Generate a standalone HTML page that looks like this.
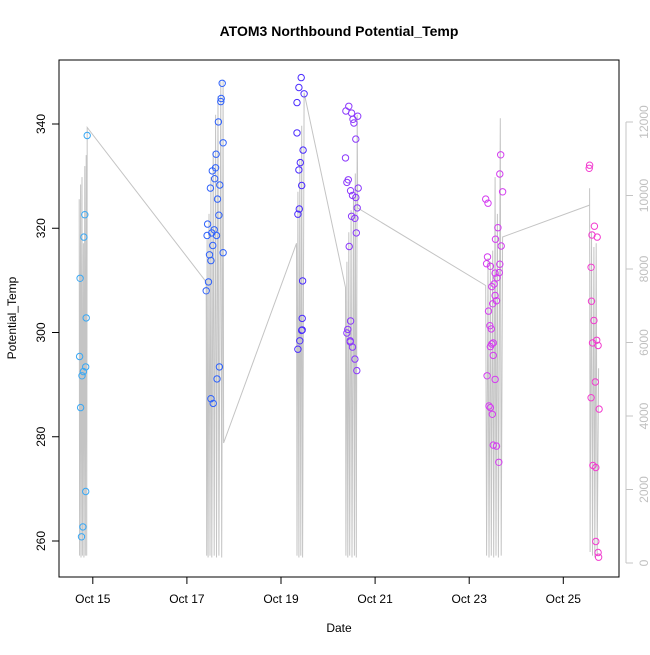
<!DOCTYPE html>
<html><head><meta charset="utf-8"><style>
body{margin:0;background:#fff;}
svg text{font-family:"Liberation Sans",sans-serif;}
</style></head><body>
<svg id="chart" width="650" height="650" xmlns="http://www.w3.org/2000/svg"></svg>
<script>
// ---- data ----
const dateTicks = [15, 17, 19, 21, 23, 25];
const dateTickLabels = ["Oct 15", "Oct 17", "Oct 19", "Oct 21", "Oct 23", "Oct 25"];
const tempTicks = [260, 280, 300, 320, 340];
const depthTicks = [0, 2000, 4000, 6000, 8000, 10000, 12000];
const clusterColors = ["#3aa8f4", "#2f62fb", "#4b2cff", "#8c3afc", "#d43cf0", "#f23ccf"];

const c1Days = [14.88,14.83,14.81,14.73,14.86,14.72,14.85,14.80,14.77,14.74,14.85,14.79,14.76];
const c1Temp = [337.8,322.6,318.3,310.4,302.8,295.4,293.4,292.5,291.7,285.6,269.5,262.7,260.8];
const c2Days = [17.75,17.73,17.72,17.67,17.77,17.62,17.61,17.54,17.59,17.50,17.70,17.65,17.68,17.44,17.43,17.58,17.53,17.63,17.55,17.77,17.48,17.51,17.46,17.41,17.69,17.64,17.51,17.56];
const c2Temp = [347.8,344.9,344.3,340.4,336.4,334.2,331.6,331.0,329.5,327.7,328.3,325.6,322.5,320.8,318.6,319.7,319.1,318.6,316.7,315.3,314.9,313.8,309.7,308.0,293.4,291.1,287.3,286.4];
const c3Days = [19.43,19.38,19.49,19.34,19.34,19.47,19.41,19.38,19.44,19.39,19.36,19.46,19.45,19.45,19.44,19.40,19.36];
const c3Temp = [348.9,347.0,345.8,344.1,338.3,335.0,332.6,331.2,328.2,323.7,322.7,309.9,302.7,300.5,300.4,298.4,296.8];
const c4Days = [20.44,20.38,20.50,20.63,20.53,20.55,20.59,20.37,20.43,20.40,20.64,20.48,20.52,20.59,20.62,20.50,20.57,20.60,20.45,20.48,20.42,20.40,20.47,20.47,20.52,20.57,20.61];
const c4Temp = [343.4,342.5,342.1,341.5,340.9,340.2,337.1,333.5,329.3,328.8,327.7,327.2,326.3,325.9,323.9,322.3,321.9,319.1,316.5,302.2,300.6,299.9,298.4,298.2,297.2,294.9,292.7];
const c5Days = [23.67,23.65,23.71,23.35,23.40,23.61,23.56,23.68,23.39,23.37,23.45,23.65,23.55,23.64,23.59,23.53,23.48,23.55,23.58,23.50,23.41,23.44,23.47,23.51,23.48,23.45,23.51,23.38,23.55,23.42,23.45,23.49,23.51,23.58,23.63];
const c5Temp = [334.1,330.4,327.0,325.6,324.8,320.1,317.9,316.6,314.5,313.2,312.7,313.1,311.4,311.5,310.5,309.3,308.8,307.1,306.1,305.5,304.1,301.3,300.7,298.0,297.8,297.3,295.6,291.7,291.0,285.9,285.6,284.3,278.4,278.2,275.1];
const c6Days = [25.56,25.55,25.66,25.61,25.72,25.59,25.60,25.65,25.71,25.62,25.74,25.68,25.59,25.76,25.63,25.69,25.69,25.74,25.75];
const c6Temp = [332.1,331.5,320.4,318.7,318.3,312.5,306.0,302.3,298.5,298.0,297.5,290.5,287.5,285.3,274.5,274.1,259.9,257.8,256.9];

const depthDays = [14.71,14.72,14.74,14.75,14.77,14.78,14.80,14.81,14.83,14.84,14.86,14.87,14.88,
 17.41,17.42,17.43,17.45,17.47,17.49,17.51,17.53,17.56,17.58,17.61,17.63,17.66,17.68,17.72,17.74,17.77,17.78,
 19.33,19.34,19.36,19.38,19.40,19.42,19.44,19.46,19.49,
 20.37,20.38,20.40,20.42,20.44,20.46,20.49,20.51,20.54,20.56,20.58,20.60,20.62,20.63,
 23.35,23.37,23.40,23.42,23.45,23.47,23.50,23.52,23.55,23.57,23.60,23.62,23.66,23.68,23.71,
 25.56,25.56,25.57,25.60,25.62,25.65,25.67,25.70,25.72,25.75];
const depthVals = [9900,200,10300,150,10500,200,8700,150,10800,200,11100,200,11850,
 7650,200,8800,150,9500,200,10500,150,11200,200,12200,150,12700,200,13100,150,13150,3265,
 8700,200,10100,150,11000,200,11900,150,12800,
 7500,200,8200,150,9000,200,9600,150,10000,200,10600,150,12200,9660,
 7550,200,8300,150,8200,200,8500,150,10500,200,9500,150,12100,200,8870,
 9740,10200,300,9000,200,8600,150,8700,200,5300];

// ---- axes ----
const L=59,R=619,T=60,B=577;
const xs = d => 92.8 + (d-15)*47.05;
const ys = v => 541 - (v-260)*5.2125;
const yd = v => 563 - v*(73.5/2000);
const NS="http://www.w3.org/2000/svg";
const svg=document.getElementById('chart');
function mk(tag,attrs,parent){const e=document.createElementNS(NS,tag);for(const k in attrs)e.setAttribute(k,attrs[k]);(parent||svg).appendChild(e);return e;}

// gray depth line
let dstr=depthDays.map((d,i)=>(i?'L':'M')+xs(d).toFixed(1)+' '+yd(depthVals[i]).toFixed(1)).join(' ');
const dl=mk('path',{d:dstr,fill:'none',stroke:'#c4c4c4','stroke-width':1});



// points
const clusters=[[c1Days,c1Temp],[c2Days,c2Temp],[c3Days,c3Temp],[c4Days,c4Temp],[c5Days,c5Temp],[c6Days,c6Temp]];
clusters.forEach((c,ci)=>{
  const g=mk('g',{});
  
  
  c[0].forEach((d,i)=>{
    const p=mk('circle',{cx:xs(d).toFixed(1),cy:ys(c[1][i]).toFixed(1),r:3.2,fill:'none',stroke:clusterColors[ci],'stroke-width':1},g);
    
    
  });
});

// box
const box=mk('rect',{x:L,y:T,width:R-L,height:B-T,fill:'none',stroke:'#000','stroke-width':1});



// x axis
const xa=mk('g',{});


mk('line',{x1:xs(15),x2:xs(25),y1:B,y2:B,stroke:'#000'},xa);
dateTicks.forEach((d,i)=>{
  mk('line',{x1:xs(d),x2:xs(d),y1:B,y2:B+7,stroke:'#000'},xa);
  const t=mk('text',{x:xs(d),y:603,'text-anchor':'middle','font-size':12},xa);
  t.textContent=dateTickLabels[i];
  
  
});
// left y axis
const ya=mk('g',{});


mk('line',{x1:L,x2:L,y1:ys(260),y2:ys(340),stroke:'#000'},ya);
tempTicks.forEach(v=>{
  mk('line',{x1:L-7,x2:L,y1:ys(v),y2:ys(v),stroke:'#000'},ya);
  const t=mk('text',{x:0,y:0,'text-anchor':'middle','font-size':12,transform:`translate(45,${ys(v)}) rotate(-90)`},ya);
  t.textContent=v;
  
  
});
// right y axis
const ra=mk('g',{});


mk('line',{x1:626,x2:626,y1:yd(0),y2:yd(12000),stroke:'#c4c4c4'},ra);
depthTicks.forEach(v=>{
  mk('line',{x1:626,x2:633,y1:yd(v),y2:yd(v),stroke:'#c4c4c4'},ra);
  const t=mk('text',{x:0,y:0,'text-anchor':'middle','font-size':12,fill:'#c0c0c0',transform:`translate(648,${yd(v)}) rotate(-90)`},ra);
  t.textContent=v;
  
  
});
// titles
const tt=mk('text',{x:339,y:36,'text-anchor':'middle','font-size':14,'font-weight':'bold'});
tt.textContent='ATOM3 Northbound Potential_Temp';


const xt=mk('text',{x:339,y:632,'text-anchor':'middle','font-size':12});
xt.textContent='Date';


const yt=mk('text',{x:0,y:0,'text-anchor':'middle','font-size':12,transform:'translate(16,318) rotate(-90)'});
yt.textContent='Potential_Temp';


</script>
</body></html>
